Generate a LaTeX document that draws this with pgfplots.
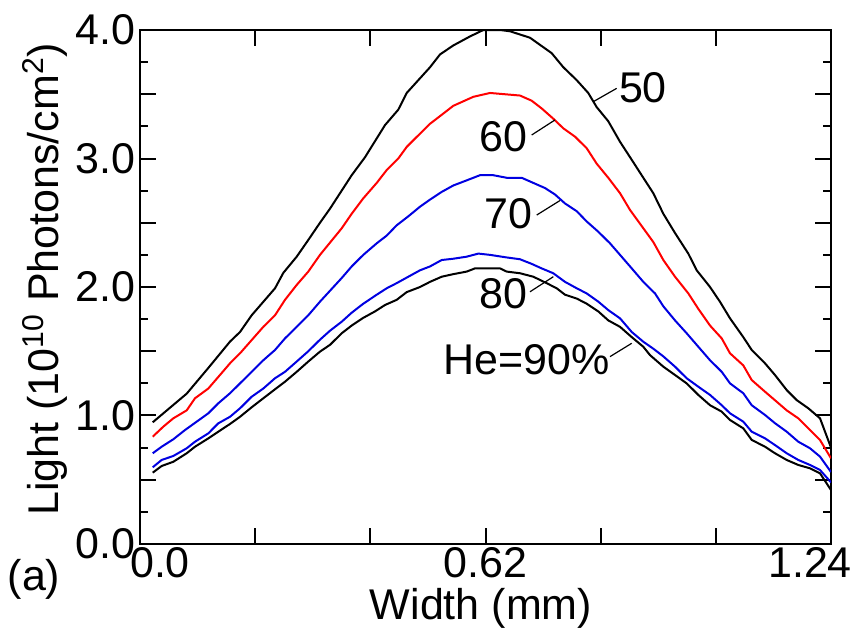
\documentclass[border=0pt]{standalone}
\usepackage{pgfplots}
\pgfplotsset{compat=1.18}
\usepackage{fontspec}
\setmainfont{Liberation Sans}
\definecolor{myred}{RGB}{255,0,0}
\definecolor{myblue}{RGB}{0,0,225}
\newcommand{\fs}{\fontsize{21.5}{25}\selectfont}
\begin{document}
\begin{tikzpicture}
\path[use as bounding box] (-70pt,-43.5pt) rectangle (356pt,272pt);
\begin{axis}[
  scale only axis, width=345.5pt, height=257pt,
  at={(0,0)}, anchor=south west,
  xmin=0, xmax=1.24, ymin=0, ymax=4,
  axis line style={line width=1.3pt},
  tick style={line width=1pt, black},
  tick align=inside, xtick pos=both, ytick pos=both,
  major tick length=8pt, minor tick length=3.8pt,
  xtick={0,0.206667,0.413333,0.62,0.826667,1.033333,1.24},
  xticklabels={\hspace*{20pt}0.0,,,0.62,,,1.24\hspace*{21pt}},
  minor x tick num=3,
  ytick={0,0.5,...,4},
  yticklabels={0.0,,1.0,,2.0,,3.0,,4.0},
  minor y tick num=1,
  ticklabel style={font=\fs},
  xticklabel style={inner sep=1pt, yshift=-0.5pt},
  yticklabel style={inner sep=2pt},
  /pgf/number format/assume math mode=true,
  xlabel={Width (mm)},
  ylabel={Light (10\textsuperscript{10} Photons/cm\textsuperscript{2})},
  label style={font=\fs},
  x label style={at={(axis description cs:0.4935,-0.1255)},anchor=center},
  y label style={at={(axis description cs:-0.1375,0.515)},anchor=center},
]
% He=50%
\addplot[black, line width=1pt] coordinates {
(0.0228,0.947)(0.0838,1.17)(0.1226,1.37)(0.1615,1.575)(0.1795,1.65)(0.2004,1.78)
(0.2423,1.99)(0.2572,2.11)(0.2812,2.236)(0.3020,2.366)(0.3230,2.50)(0.3410,2.61)
(0.3799,2.87)(0.4038,3.01)(0.4397,3.26)(0.4635,3.38)(0.4786,3.51)(0.5204,3.71)
(0.5384,3.81)(0.5623,3.88)(0.5922,3.95)(0.6161,4.00)(0.6460,4.00)(0.6640,3.99)
(0.6998,3.94)(0.7387,3.82)(0.7597,3.71)(0.7836,3.61)(0.8044,3.51)(0.8195,3.40)
(0.8403,3.29)(0.8614,3.13)(0.8824,2.99)(0.9032,2.85)(0.9211,2.73)(0.9391,2.57)
(0.9601,2.42)(0.9839,2.26)(0.9990,2.13)(1.0229,2.00)(1.0408,1.885)(1.0588,1.756)
(1.0826,1.61)(1.0977,1.51)(1.1216,1.406)(1.1395,1.315)(1.1605,1.198)(1.1784,1.12)
(1.1993,1.056)(1.2203,0.978)(1.24,0.75)};
% 60
\addplot[myred, line width=1pt] coordinates {
(0.0228,0.835)(0.0418,0.913)(0.0598,0.978)(0.0838,1.04)(0.0987,1.134)(0.1226,1.21)
(0.1405,1.30)(0.1615,1.406)(0.1795,1.484)(0.2004,1.587)(0.2213,1.69)(0.2423,1.78)
(0.2602,1.90)(0.2812,2.016)(0.3020,2.12)(0.3230,2.25)(0.3620,2.457)(0.3799,2.57)
(0.4007,2.69)(0.4248,2.81)(0.4427,2.91)(0.4635,3.00)(0.4786,3.09)(0.4994,3.18)
(0.5204,3.27)(0.5414,3.34)(0.5622,3.41)(0.5981,3.48)(0.6281,3.51)(0.6819,3.49)
(0.7028,3.45)(0.7207,3.39)(0.7416,3.31)(0.7596,3.235)(0.7806,3.17)(0.8016,3.08)
(0.8195,2.96)(0.8403,2.85)(0.8614,2.73)(0.8793,2.60)(0.9032,2.457)(0.9211,2.35)
(0.9391,2.21)(0.9601,2.08)(0.9840,1.95)(1.0019,1.83)(1.0229,1.70)(1.0439,1.60)
(1.0588,1.484)(1.0826,1.39)(1.0977,1.276)(1.1216,1.185)(1.1426,1.107)(1.1605,1.04)
(1.1813,0.978)(1.2023,0.887)(1.2203,0.809)(1.24,0.667)};
% 70
\addplot[myblue, line width=1pt] coordinates {
(0.0228,0.706)(0.0389,0.757)(0.0598,0.815)(0.0808,0.887)(0.1017,0.952)(0.1226,1.017)
(0.1405,1.095)(0.1615,1.173)(0.1795,1.25)(0.2004,1.34)(0.2213,1.43)(0.2423,1.51)
(0.2602,1.60)(0.2812,1.69)(0.3020,1.78)(0.3230,1.886)(0.3620,2.07)(0.3799,2.16)
(0.4007,2.25)(0.4248,2.34)(0.4427,2.40)(0.4606,2.48)(0.4815,2.55)(0.5025,2.625)
(0.5204,2.68)(0.5414,2.74)(0.5622,2.79)(0.5863,2.83)(0.6101,2.87)(0.6340,2.87)
(0.6580,2.85)(0.6849,2.85)(0.7058,2.81)(0.7268,2.77)(0.7447,2.72)(0.7627,2.65)
(0.7837,2.59)(0.8016,2.51)(0.8224,2.43)(0.8434,2.34)(0.8614,2.25)(0.8824,2.145)
(0.9032,2.04)(0.9242,1.95)(0.9391,1.85)(0.9601,1.74)(0.9810,1.64)(1.0019,1.535)
(1.0229,1.43)(1.0439,1.34)(1.0588,1.25)(1.0826,1.173)(1.0977,1.08)(1.1216,1.004)
(1.1395,0.94)(1.1605,0.874)(1.1813,0.796)(1.2023,0.745)(1.2203,0.68)(1.24,0.56)};
% 80
\addplot[myblue, line width=1pt] coordinates {
(0.0228,0.597)(0.0389,0.654)(0.0598,0.685)(0.0838,0.745)(0.0987,0.796)(0.1226,0.861)
(0.1405,0.939)(0.1615,0.99)(0.1795,1.056)(0.2004,1.146)(0.2213,1.21)(0.2423,1.29)
(0.2602,1.34)(0.2812,1.42)(0.3020,1.50)(0.3230,1.59)(0.3410,1.66)(0.3620,1.73)
(0.3799,1.80)(0.4007,1.87)(0.4248,1.94)(0.4427,1.99)(0.4606,2.03)(0.4815,2.08)
(0.5025,2.13)(0.5204,2.16)(0.5414,2.21)(0.5622,2.22)(0.5863,2.236)(0.6072,2.26)
(0.6281,2.25)(0.6580,2.23)(0.6819,2.216)(0.7028,2.18)(0.7207,2.145)(0.7416,2.107)
(0.7627,2.04)(0.7837,1.99)(0.8016,1.95)(0.8224,1.886)(0.8404,1.82)(0.8614,1.756)
(0.8824,1.65)(0.9032,1.574)(0.9211,1.52)(0.9391,1.46)(0.9601,1.38)(0.9810,1.29)
(1.0019,1.224)(1.0229,1.16)(1.0439,1.08)(1.0588,1.017)(1.0826,0.952)(1.0977,0.874)
(1.1216,0.822)(1.1395,0.77)(1.1605,0.706)(1.1813,0.654)(1.2023,0.615)(1.2203,0.576)
(1.24,0.48)};
% 90
\addplot[black, line width=1pt] coordinates {
(0.0228,0.555)(0.0389,0.607)(0.0598,0.64)(0.0838,0.706)(0.0987,0.757)(0.1226,0.822)
(0.1405,0.874)(0.1615,0.934)(0.1795,0.99)(0.2004,1.064)(0.2213,1.134)(0.2423,1.204)
(0.2602,1.263)(0.2812,1.34)(0.3020,1.42)(0.3230,1.497)(0.3410,1.55)(0.3620,1.64)
(0.3799,1.70)(0.4007,1.76)(0.4217,1.81)(0.4397,1.86)(0.4606,1.90)(0.4785,1.96)
(0.5025,2.00)(0.5204,2.04)(0.5414,2.08)(0.5622,2.10)(0.5863,2.12)(0.6012,2.145)
(0.6280,2.145)(0.6460,2.145)(0.6580,2.12)(0.6819,2.107)(0.7058,2.08)(0.7297,2.03)
(0.7477,1.99)(0.7627,1.94)(0.7837,1.91)(0.8016,1.87)(0.8224,1.81)(0.8404,1.74)
(0.8614,1.69)(0.8824,1.61)(0.9032,1.535)(0.9152,1.47)(0.9391,1.38)(0.9601,1.315)
(0.9810,1.25)(1.0019,1.16)(1.0229,1.08)(1.0439,1.03)(1.0588,0.965)(1.0826,0.90)
(1.0977,0.81)(1.1216,0.757)(1.1395,0.706)(1.1605,0.654)(1.1813,0.615)(1.2023,0.589)
(1.2203,0.55)(1.24,0.42)};
% annotations
\draw[black, line width=0.6pt] (axis cs:0.8134,3.442) -- (axis cs:0.8554,3.546);
\node[font=\fs] at (axis cs:0.9026,3.549) {50};
\draw[black, line width=0.6pt] (axis cs:0.7029,3.183) -- (axis cs:0.7447,3.300);
\node[font=\fs] at (axis cs:0.6520,3.170) {60};
\draw[black, line width=0.6pt] (axis cs:0.7119,2.560) -- (axis cs:0.7537,2.673);
\node[font=\fs] at (axis cs:0.6609,2.574) {70};
\draw[black, line width=0.6pt] (axis cs:0.6999,1.963) -- (axis cs:0.7417,2.080);
\node[font=\fs] at (axis cs:0.6520,1.951) {80};
\draw[black, line width=0.6pt] (axis cs:0.8434,1.458) -- (axis cs:0.8824,1.562);
\node[font=\fs] at (axis cs:0.6939,1.432) {He=90\%};
\end{axis}
\node[font=\fs] at (-53pt,-17.5pt) {(a)};
\end{tikzpicture}
\end{document}
